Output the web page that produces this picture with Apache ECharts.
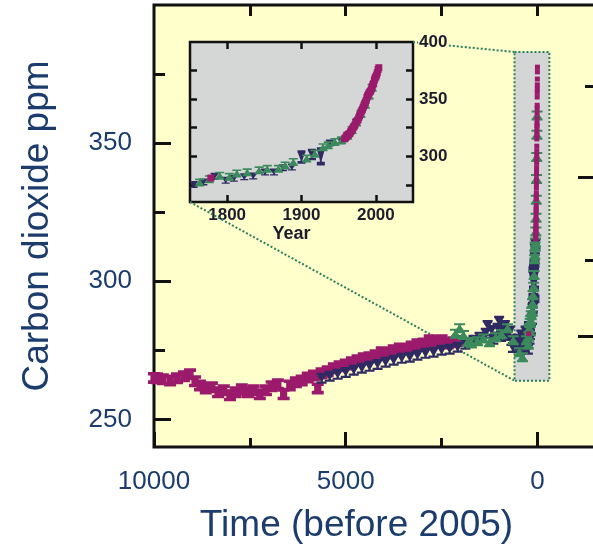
<!DOCTYPE html>
<html>
<head>
<meta charset="utf-8">
<title>Carbon dioxide ppm</title>
<script src="https://cdn.jsdelivr.net/npm/echarts@6/dist/echarts.min.js"></script>
<style>
html, body { margin: 0; padding: 0; background: #fff; }
#chart { width: 593px; height: 548px; }
</style>
</head>
<body>
<div id="chart"></div>
<script>
// ---- tick values ----
var ageTicksMajor = [10000, 5000, 0];
var ageTicksMinor = [7500, 2500];
var ageTicksTop = [7500, 5000, 2500, 0];
var ppmTicksMajor = [250, 300, 350];
var ppmTicksMinor = [275, 325, 375];
var forcingMajor = [0, 1];          // W/m2, right-hand axis (labels cut off)
var forcingMinor = [0.5, 1.5];
var forcingBase = 280;              // ppm at zero forcing
var insetYearTicks = [1800, 1900, 2000];
var insetPpmTicks = [275, 300, 325, 350, 375];
var insetPpmLabels = [300, 350, 400];
var zoomBoxAge = [600, -310];
var zoomBoxPpm = [264, 383];

// ---- ice core data, years before 2005 ----
var paleoMagentaAge = [10000, 9920, 9770, 9580, 9400, 9220, 9060, 8930, 8800, 8650, 8490, 8330, 8180, 8020, 7870, 7710, 7550, 7400, 7240, 7080, 6930, 6770, 6620, 6460, 6300, 6150, 5990, 5830, 5730, 5630, 5470, 5310, 5160, 5000, 4840, 4690, 4530, 4380, 4220, 4060, 3910, 3750, 3590, 3440, 3280, 3130, 2970, 2810, 2660, 2500, 2340, 2190, 2090];
var paleoMagentaPpm = [265.0, 264.9, 264.5, 264.1, 264.9, 265.6, 266.3, 263.8, 262.3, 261.2, 261.6, 259.8, 260.5, 258.7, 259.8, 260.9, 259.8, 260.5, 259.1, 260.5, 262.0, 262.7, 259.1, 262.3, 263.4, 264.1, 265.2, 265.9, 261.2, 266.7, 267.4, 268.5, 269.2, 269.9, 270.7, 271.4, 272.1, 272.5, 273.2, 274.3, 273.9, 275.0, 275.7, 275.4, 276.4, 277.2, 277.5, 278.6, 278.3, 278.6, 277.5, 277.9, 278.4];

var paleoNavyAge = [5630, 5420, 5210, 5000, 4790, 4580, 4380, 4170, 3960, 3750, 3540, 3330, 3130, 2920, 2710, 2500, 2290, 2080, 1880, 1670, 1510, 1350, 1300, 1200, 1150, 1040, 1000, 950, 890, 850, 780, 720, 680, 640, 570, 520, 470, 420, 370, 330, 310, 290];
var paleoNavyPpm = [264.9, 265.6, 266.3, 267.0, 267.8, 268.5, 269.2, 269.9, 270.7, 271.4, 272.1, 272.5, 273.2, 273.9, 274.3, 275.0, 275.4, 276.1, 277.2, 278.6, 279.7, 281.2, 284.0, 282.2, 279.0, 283.0, 285.5, 280.0, 282.2, 284.0, 280.4, 282.0, 278.6, 276.0, 277.9, 279.0, 276.8, 280.5, 277.5, 276.0, 282.0, 278.3];

var paleoGreenAge = [2140, 2030, 1930, 1820, 1720, 1560, 1410, 1250, 1090, 940, 780, 630, 470, 390, 290];
var paleoGreenPpm = [281.0, 283.0, 280.5, 278.0, 277.5, 278.3, 279.3, 277.9, 279.7, 280.8, 283.0, 278.6, 274.3, 272.5, 278.6];

// ---- last 250 years, calendar year ----
var modernNavyYear = [1755, 1768, 1783, 1798, 1809, 1823, 1835, 1851, 1863, 1875, 1887, 1900, 1914, 1926, 1938, 1953];
var modernNavyPpm = [275.4, 277.5, 282.6, 279.0, 280.7, 282.0, 282.7, 286.2, 286.2, 290.0, 290.6, 299.4, 301.5, 300.0, 311.7, 313.5];
var modernNavyErr = [2, 2, 3, 2, 2, 2, 2, 2, 2, 2, 2, 6, 5, 8, 2, 2];

var modernGreenYear = [1763, 1776, 1790, 1803, 1813, 1827, 1843, 1854, 1869, 1878, 1889, 1907, 1918, 1929, 1936, 1945, 1954, 1962, 1968, 1974, 1980, 1986, 1991, 1995];
var modernGreenPpm = [277.0, 280.0, 283.0, 282.0, 285.0, 286.0, 287.7, 289.0, 289.0, 292.0, 295.0, 298.0, 302.3, 308.0, 309.6, 312.6, 314.0, 318.0, 323.0, 329.5, 337.0, 345.0, 353.0, 360.0];

var modernMagentaYear = [1778, 1958, 1959, 1960, 1961, 1962, 1963, 1964, 1965, 1966, 1967, 1968, 1969, 1970, 1971, 1972, 1973, 1974, 1975, 1976, 1977, 1978, 1979, 1980, 1981, 1982, 1983, 1984, 1985, 1986, 1987, 1988, 1989, 1990, 1991, 1992, 1993, 1994, 1995, 1996, 1997, 1998, 1999, 2000, 2001, 2002, 2003, 2004];
var modernMagentaPpm = [281.0, 315.3, 316.0, 316.9, 317.6, 318.5, 319.0, 319.6, 320.0, 321.4, 322.2, 323.0, 324.6, 325.7, 326.3, 327.5, 329.7, 330.2, 331.1, 332.0, 333.8, 335.4, 336.8, 338.7, 339.9, 341.1, 342.8, 344.4, 345.9, 347.2, 348.9, 351.5, 352.9, 354.2, 355.6, 356.4, 357.1, 358.8, 360.8, 362.6, 363.7, 366.7, 368.4, 369.6, 371.1, 373.2, 375.8, 377.5];

var refYear = 2005;

var textBlue = '#1b3c6c';
var cMagenta = '#9b1a6c';
var cNavy = '#2f2b62';
var cGreen = '#3b8a5b';
var cDots = '#2c7f5f';
var font = "'Liberation Sans', Arial, sans-serif";

var symIBeam = 'path://M0,0H10V3H8V7H10V10H0V7H2V3H0Z';
var symDown = 'path://M0,0H10V2H0Z M0.5,2H9.5L5,9Z M0,8H10V10H0Z M3.8,0H6.2V10H3.8Z';
var symUp = 'path://M0,0H10V2H0Z M5,1L9.5,8H0.5Z M0,8H10V10H0Z M3.8,0H6.2V10H3.8Z';

function pairs(xs, ys, errs) {
	var out = [];
	for(var i = 0; i < xs.length; i++) {
		out.push(errs ? [xs[i], ys[i], errs[i]] : [xs[i], ys[i]]);
	}
	return out;
}

function toAge(years) {
	return years.map(function(y) { return refYear - y; });
}

function forcingToPpm(list) {
	return list.map(function(f) { return forcingBase * Math.exp(f / 5.35); });
}

function plainNumber(v) {
	return String(v);
}

// an axis that only draws inside ticks at given values
function tickAxis(grid, pos, min, max, values, len, inverse) {
	return {
		type: 'value',
		gridIndex: grid,
		position: pos,
		min: min,
		max: max,
		inverse: !!inverse,
		axisLine: { show: false, onZero: false },
		splitLine: { show: false },
		axisLabel: { show: false },
		axisTick: {
			show: true,
			inside: true,
			length: len,
			customValues: values,
			lineStyle: { color: '#111', width: grid == 0 ? 3 : 2.5 }
		}
	};
}

var mainNavy = pairs(paleoNavyAge, paleoNavyPpm, paleoNavyAge.map(function() { return 2; }))
	.concat(pairs(toAge(modernNavyYear), modernNavyPpm, modernNavyErr));
var mainGreen = pairs(paleoGreenAge, paleoGreenPpm).concat(pairs(toAge(modernGreenYear), modernGreenPpm));

var chart = echarts.init(document.getElementById('chart'));

// main bottom axis with labels and title
var xMain = tickAxis(0, 'bottom', -1500, 10000, ageTicksMajor, 15, true);
xMain.axisLabel = {
	show: true,
	customValues: ageTicksMajor,
	margin: 22,
	fontSize: 26,
	color: textBlue,
	fontFamily: font,
	formatter: plainNumber
};
xMain.name = 'Time (before 2005)';
xMain.nameLocation = 'middle';
xMain.nameGap = 60;
xMain.nameTextStyle = { fontSize: 37, color: textBlue, fontFamily: font, padding: [0, 36, 0, 0] };

var yMain = tickAxis(0, 'left', 240, 400, ppmTicksMajor, 17);
yMain.axisLabel = {
	show: true,
	customValues: ppmTicksMajor,
	margin: 22,
	fontSize: 26,
	color: textBlue,
	fontFamily: font,
	formatter: plainNumber
};
yMain.name = 'Carbon dioxide ppm';
yMain.nameLocation = 'middle';
yMain.nameGap = 98;
yMain.nameTextStyle = { fontSize: 37, color: textBlue, fontFamily: font };

var xInset = tickAxis(1, 'bottom', 1750, 2050, insetYearTicks, 7);
xInset.axisLabel = {
	show: true,
	customValues: insetYearTicks,
	margin: 5,
	fontSize: 17,
	fontWeight: 'bold',
	color: '#1c1c2e',
	fontFamily: font,
	formatter: plainNumber
};
xInset.name = 'Year';
xInset.nameLocation = 'middle';
xInset.nameGap = 21;
xInset.nameTextStyle = { fontSize: 18, fontWeight: 'bold', color: '#1c1c2e', fontFamily: font, padding: [0, 20, 0, 0] };

var yInset = tickAxis(1, 'right', 260, 400, insetPpmTicks, 7);
yInset.z = 20;
yInset.axisLabel = {
	show: true,
	customValues: insetPpmLabels,
	margin: 5,
	fontSize: 17,
	fontWeight: 'bold',
	color: '#1c1c2e',
	fontFamily: font,
	backgroundColor: '#ffffcc',
	padding: [0, 1],
	formatter: plainNumber
};

var option = {
	animation: false,
	backgroundColor: '#ffffff',
	grid: [{
		left: 154, top: 5, right: -2, bottom: 101,
		show: true,
		backgroundColor: '#ffffcc',
		borderColor: '#111',
		borderWidth: 3,
		outerBoundsMode: 'none'
	}, {
		left: 190, top: 42, width: 223, height: 160,
		show: true,
		backgroundColor: '#d5d7d6',
		borderColor: '#111',
		borderWidth: 2.5,
		outerBoundsMode: 'none'
	}],
	xAxis: [
		xMain,
		tickAxis(0, 'bottom', -1500, 10000, ageTicksMinor, 9, true),
		tickAxis(0, 'top', -1500, 10000, ageTicksTop, 11, true),
		xInset,
		tickAxis(1, 'top', 1750, 2050, insetYearTicks, 7)
	],
	yAxis: [
		yMain,
		tickAxis(0, 'left', 240, 400, ppmTicksMinor, 11),
		tickAxis(0, 'right', 240, 400, forcingToPpm(forcingMajor), 17),
		tickAxis(0, 'right', 240, 400, forcingToPpm(forcingMinor), 10),
		yInset,
		tickAxis(1, 'left', 260, 400, insetPpmTicks, 7)
	],
	series: [{
		// grey band marking the inset period
		type: 'custom',
		xAxisIndex: 0,
		yAxisIndex: 0,
		z: 1,
		silent: true,
		data: [[zoomBoxAge[0], zoomBoxPpm[0], zoomBoxAge[1], zoomBoxPpm[1]]],
		renderItem: function(params, api) {
			var a = api.coord([api.value(0), api.value(3)]);
			var b = api.coord([api.value(2), api.value(1)]);
			return {
				type: 'rect',
				shape: { x: a[0], y: a[1], width: b[0] - a[0], height: b[1] - a[1] },
				style: { fill: '#d3d6d5', stroke: cDots, lineWidth: 2, lineDash: [2, 2] }
			};
		}
	}, {
		type: 'scatter',
		xAxisIndex: 0, yAxisIndex: 0,
		clip: false,
		symbol: symIBeam,
		symbolSize: [12, 12],
		itemStyle: { color: cMagenta, opacity: 1 },
		data: pairs(paleoMagentaAge, paleoMagentaPpm)
	}, {
		type: 'scatter',
		xAxisIndex: 0, yAxisIndex: 0,
		clip: false,
		symbol: symDown,
		symbolSize: function(v) { return [10, Math.max(9, v[2] * 2 * 2.76)]; },
		itemStyle: { color: cNavy, opacity: 1 },
		data: mainNavy
	}, {
		type: 'scatter',
		xAxisIndex: 0, yAxisIndex: 0,
		clip: false,
		symbol: symUp,
		symbolSize: [11, 10],
		itemStyle: { color: cGreen, opacity: 1 },
		data: mainGreen
	}, {
		type: 'scatter',
		xAxisIndex: 0, yAxisIndex: 0,
		clip: false,
		symbol: 'rect',
		symbolSize: [5, 5],
		itemStyle: { color: cMagenta, opacity: 1 },
		data: pairs(toAge(modernMagentaYear), modernMagentaPpm)
	}, {
		type: 'scatter',
		xAxisIndex: 3, yAxisIndex: 4,
		symbol: symDown,
		symbolSize: function(v) { return [8, Math.max(7, v[2] * 2 * 1.14)]; },
		itemStyle: { color: cNavy, opacity: 1 },
		data: pairs(modernNavyYear, modernNavyPpm, modernNavyErr)
	}, {
		type: 'scatter',
		xAxisIndex: 3, yAxisIndex: 4,
		symbol: symUp,
		symbolSize: [9, 8],
		itemStyle: { color: cGreen, opacity: 1 },
		data: pairs(modernGreenYear, modernGreenPpm)
	}, {
		type: 'scatter',
		xAxisIndex: 3, yAxisIndex: 4,
		symbol: 'rect',
		symbolSize: [7, 7],
		itemStyle: { color: cMagenta, opacity: 1 },
		data: pairs(modernMagentaYear, modernMagentaPpm)
	}]
};
chart.setOption(option);

// dotted lines joining the inset corners to the grey band
var insetTopRight = chart.convertToPixel({ seriesIndex: 6 }, [2050, 400]);
var insetBottomLeft = chart.convertToPixel({ seriesIndex: 6 }, [1750, 260]);
var boxTopLeft = chart.convertToPixel({ seriesIndex: 1 }, [zoomBoxAge[0], zoomBoxPpm[1]]);
var boxBottomLeft = chart.convertToPixel({ seriesIndex: 1 }, [zoomBoxAge[0], zoomBoxPpm[0]]);
var dotStyle = { stroke: cDots, lineWidth: 2, lineDash: [2, 2] };
chart.setOption({
	graphic: [{
		type: 'line', z: 1, silent: true,
		shape: { x1: insetTopRight[0], y1: insetTopRight[1], x2: boxTopLeft[0], y2: boxTopLeft[1] },
		style: dotStyle
	}, {
		type: 'line', z: 1, silent: true,
		shape: { x1: insetBottomLeft[0], y1: insetBottomLeft[1], x2: boxBottomLeft[0], y2: boxBottomLeft[1] },
		style: dotStyle
	}]
});
</script>
</body>
</html>
